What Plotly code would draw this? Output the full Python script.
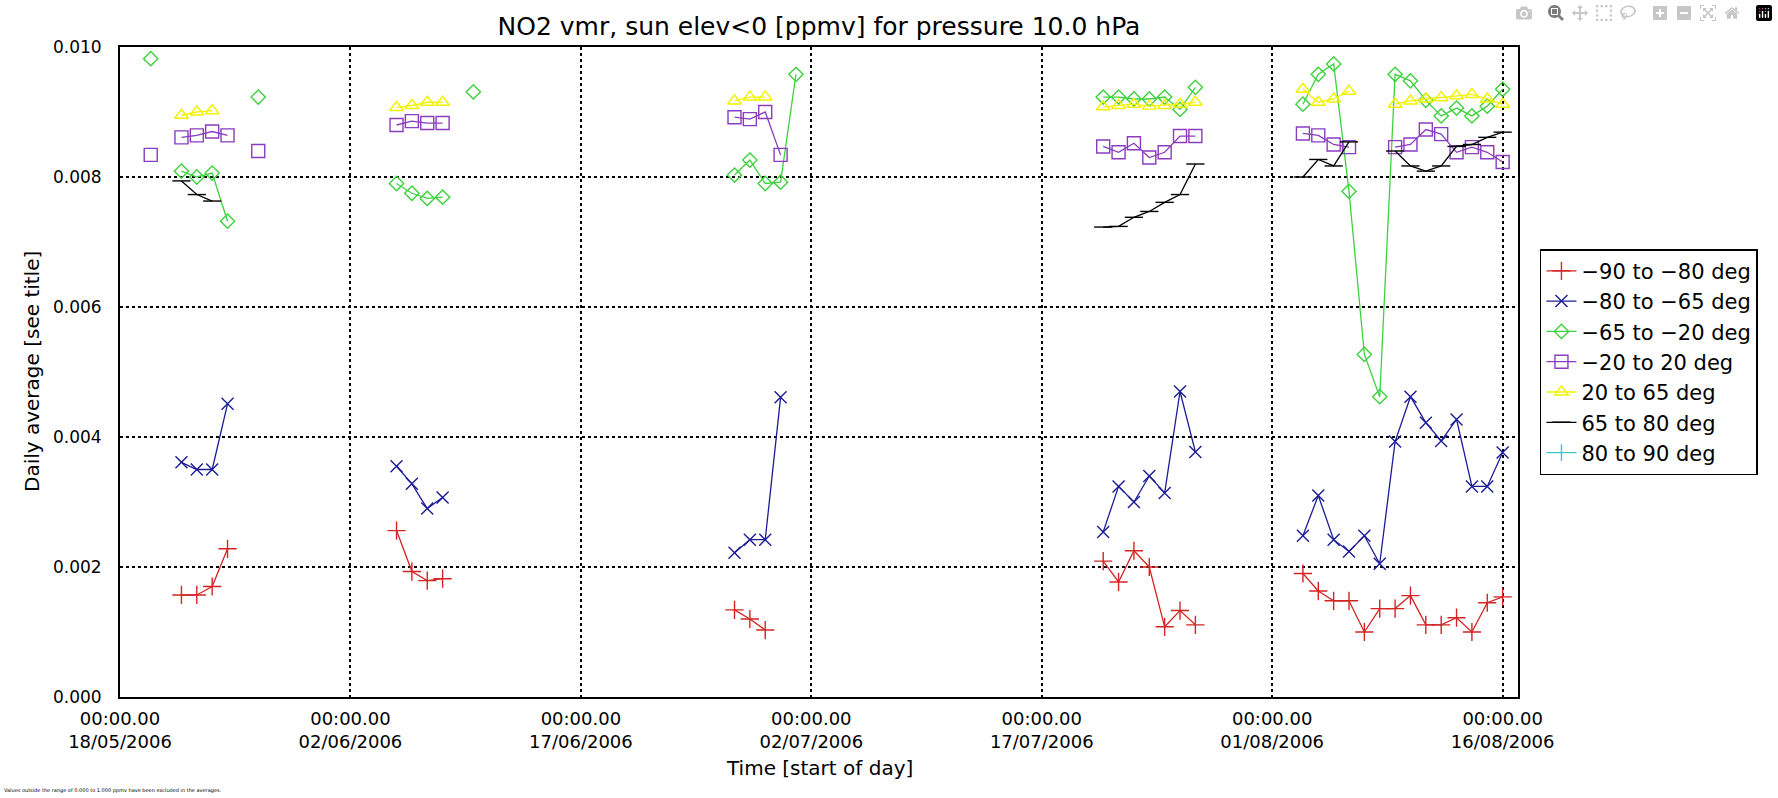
import plotly.graph_objects as go
import pandas as pd

# ---------------- data ----------------
x_range = ["2006-05-18", "2006-08-17"]
tick_dates = ["2006-05-18", "2006-06-02", "2006-06-17", "2006-07-02",
              "2006-07-17", "2006-08-01", "2006-08-16"]
tick_labels = ["00:00.00<br>18/05/2006", "00:00.00<br>02/06/2006",
               "00:00.00<br>17/06/2006", "00:00.00<br>02/07/2006",
               "00:00.00<br>17/07/2006", "00:00.00<br>01/08/2006",
               "00:00.00<br>16/08/2006"]
y_ticks = [0.000, 0.002, 0.004, 0.006, 0.008, 0.010]

# each series: start date -> consecutive daily averages (ppmv)
s_m90_m80 = {
    "2006-05-22": [0.00157, 0.00157, 0.00170, 0.00228],
    "2006-06-05": [0.00256, 0.00193, 0.00179, 0.00182],
    "2006-06-27": [0.00134, 0.00120, 0.00103],
    "2006-07-21": [0.00209, 0.00177, 0.00225, 0.00200, 0.00108, 0.00133, 0.00111],
    "2006-08-03": [0.00190, 0.00163, 0.00148, 0.00148, 0.00100, 0.00136, 0.00136,
                   0.00156, 0.00111, 0.00111, 0.00122, 0.00100, 0.00145, 0.00154],
}
s_m80_m65 = {
    "2006-05-22": [0.00361, 0.00350, 0.00350, 0.00451],
    "2006-06-05": [0.00355, 0.00328, 0.00290, 0.00307],
    "2006-06-27": [0.00222, 0.00242, 0.00242, 0.00461],
    "2006-07-21": [0.00254, 0.00324, 0.00300, 0.00340, 0.00314, 0.00470, 0.00377],
    "2006-08-03": [0.00248, 0.00310, 0.00242, 0.00224, 0.00248, 0.00205, 0.00393,
                   0.00462, 0.00422, 0.00394, 0.00427, 0.00324, 0.00324, 0.00376],
}
s_m65_m20 = {
    "2006-05-20": [0.00982],
    "2006-05-22": [0.00809, 0.00800, 0.00806, 0.00732],
    "2006-05-27": [0.00923],
    "2006-06-05": [0.00790, 0.00775, 0.00767, 0.00769],
    "2006-06-10": [0.00931],
    "2006-06-27": [0.00803, 0.00826, 0.00790, 0.00792, 0.00958],
    "2006-07-21": [0.00923, 0.00923, 0.00920, 0.00920, 0.00923, 0.00904, 0.00938],
    "2006-08-03": [0.00912, 0.00958, 0.00974, 0.00778, 0.00527, 0.00462, 0.00958,
                   0.00948, 0.00918, 0.00894, 0.00906, 0.00894, 0.00909, 0.00935],
}
s_m20_p20 = {
    "2006-05-20": [0.00834],
    "2006-05-22": [0.00861, 0.00864, 0.00870, 0.00864],
    "2006-05-27": [0.00840],
    "2006-06-05": [0.00880, 0.00886, 0.00883, 0.00883],
    "2006-06-27": [0.00892, 0.00889, 0.00900, 0.00834],
    "2006-07-21": [0.00847, 0.00838, 0.00852, 0.00830, 0.00838, 0.00863, 0.00863],
    "2006-08-03": [0.00867, 0.00864, 0.00850, 0.00846],
    "2006-08-09": [0.00846, 0.00850, 0.00873, 0.00866, 0.00838, 0.00846, 0.00838, 0.00823],
}
s_p20_p65 = {
    "2006-05-22": [0.00895, 0.00900, 0.00902],
    "2006-06-05": [0.00907, 0.00910, 0.00915, 0.00915],
    "2006-06-27": [0.00917, 0.00923, 0.00923],
    "2006-07-21": [0.00908, 0.00910, 0.00912, 0.00909, 0.00910, 0.00912, 0.00915],
    "2006-08-03": [0.00935, 0.00915, 0.00920, 0.00932],
    "2006-08-09": [0.00912, 0.00917, 0.00920, 0.00922, 0.00925, 0.00927, 0.00920, 0.00912],
}
s_p65_p80 = {
    "2006-05-22": [0.00794, 0.00773, 0.00763],
    "2006-07-21": [0.00723, 0.00724, 0.00738, 0.00747, 0.00761, 0.00773, 0.00820],
    "2006-08-03": [0.00800, 0.00827, 0.00817, 0.00854],
    "2006-08-09": [0.00840, 0.00817, 0.00809, 0.00817, 0.00847, 0.00850, 0.00861, 0.00869],
}
s_p80_p90 = {}

series_names = ["\u221290 to \u221280 deg", "\u221280 to \u221265 deg",
                "\u221265 to \u221220 deg", "\u221220 to 20 deg",
                "20 to 65 deg", "65 to 80 deg", "80 to 90 deg"]
series_data = [s_m90_m80, s_m80_m65, s_m65_m20, s_m20_p20, s_p20_p65,
               s_p65_p80, s_p80_p90]
series_colors = ["#d42424", "#1c1c96", "#3ed23e", "#8a3cc0", "#f2f200",
                 "#000000", "#3cc8c8"]
series_symbols = ["cross-thin", "x-thin", "diamond-open", "square-open",
                  "triangle-up-open", "line-ew", "line-ns"]
series_sizes = [13, 12, 11, 13, 12, 13, 12]


def build(segs):
    xs, ys = [], []
    for start, vals in segs.items():
        dates = pd.date_range(start, periods=len(vals), freq="D")
        xs += list(dates) + [None]
        ys += list(vals) + [None]
    if not xs:
        xs, ys = [None], [None]
    return xs, ys


FONT = "DejaVu Sans"
fig = go.Figure()

for i, (name, segs) in enumerate(zip(series_names, series_data)):
    xs, ys = build(segs)
    c = series_colors[i]
    fig.add_trace(go.Scatter(
        x=xs, y=ys, name=name, mode="lines+markers", connectgaps=False,
        legendgroup=f"g{i}",
        line=dict(color=c, width=1.3),
        marker=dict(symbol=series_symbols[i], size=series_sizes[i], color=c,
                    line=dict(color=c, width=1.4)),
    ))

fig.update_layout(
    width=1778, height=798,
    margin=dict(l=120, r=260, t=47, b=101),
    paper_bgcolor="white", plot_bgcolor="white",
    font=dict(family=FONT, size=16, color="black"),
    title=dict(text="NO2 vmr, sun elev<0 [ppmv] for pressure 10.0 hPa",
               x=0.5, xref="paper", xanchor="center",
               y=1 - 26 / 798, yref="container", yanchor="middle",
               font=dict(family=FONT, size=25, color="black")),
    showlegend=True,
    legend=dict(x=1.0157, xanchor="left", y=0.689, yanchor="top",
                bordercolor="black", borderwidth=1.5, bgcolor="white",
                font=dict(family=FONT, size=21, color="black"),
                tracegroupgap=6, traceorder="normal"),
)

fig.update_xaxes(
    type="date", range=x_range,
    tickvals=tick_dates, ticktext=tick_labels,
    showline=True, linecolor="black", linewidth=2, mirror=True,
    showgrid=True, gridcolor="black", griddash="dot", gridwidth=1.5,
    ticks="", ticklabelstandoff=4, zeroline=False,
    tickfont=dict(family=FONT, size=18, color="black"),
)
fig.update_yaxes(
    range=[0, 0.010], tickvals=y_ticks, tickformat=".3f",
    showline=True, linecolor="black", linewidth=2, mirror=True,
    showgrid=True, gridcolor="black", griddash="dot", gridwidth=1.5,
    ticks="", ticklabelstandoff=13, zeroline=False,
    tickfont=dict(family=FONT, size=17, color="black"),
)

fig.add_annotation(text="Time [start of day]", xref="paper", yref="paper",
                   x=0.5, y=-(768 - 697) / 650, xanchor="center", yanchor="middle",
                   showarrow=False, font=dict(family=FONT, size=20, color="black"))
fig.add_annotation(text="Daily average [see title]", xref="paper", yref="paper",
                   x=-(120 - 32) / 1398, y=0.5, xanchor="center", yanchor="middle",
                   textangle=-90, showarrow=False,
                   font=dict(family=FONT, size=20, color="black"))
fig.add_annotation(text="Values outside the range of 0.000 to 1.000 ppmv have been excluded in the averages.",
                   xref="paper", yref="paper", x=-(120 - 2) / 1398, y=-(790 - 697) / 650,
                   xanchor="left", yanchor="middle", showarrow=False,
                   font=dict(family=FONT, size=5, color="black"))

fig.write_html("out.html", post_script="document.body.style.margin='0';")
